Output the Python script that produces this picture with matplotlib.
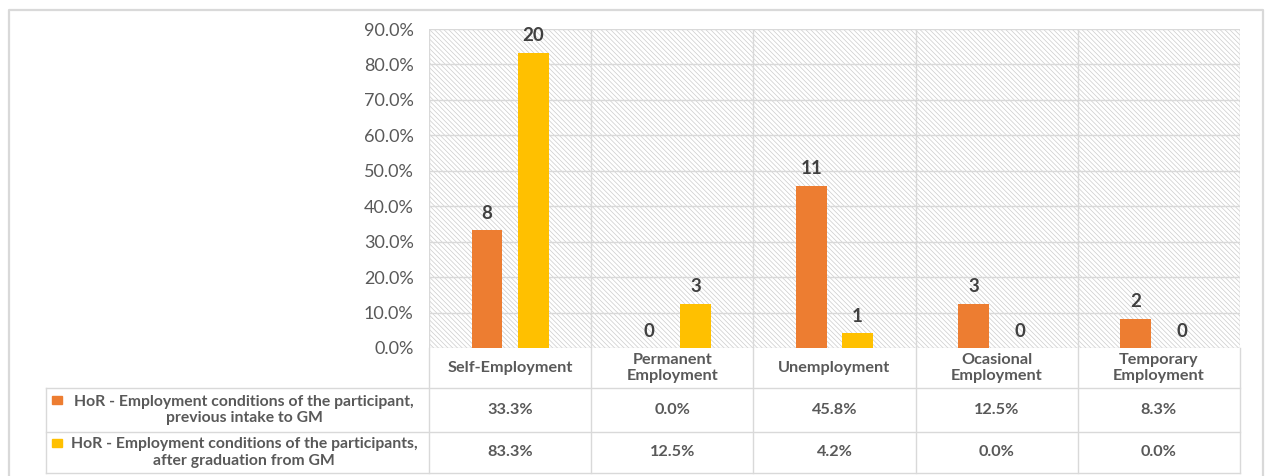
import matplotlib

matplotlib.use("Agg")
import matplotlib.pyplot as plt
import numpy as np
from matplotlib.patches import Rectangle
from matplotlib.ticker import PercentFormatter
from matplotlib.transforms import blended_transform_factory

# --- data -------------------------------------------------------------------

categories = ["Self-Employment", "Permanent\nEmployment", "Unemployment",
              "Ocasional\nEmployment", "Temporary\nEmployment"]
series_names = ["HoR - Employment conditions of the participant,\n"
                "previous intake to GM",
                "HoR - Employment conditions of the participants,\n"
                "after graduation from GM"]
before_pct = [0.333, 0.0, 0.458, 0.125, 0.083]
after_pct = [0.833, 0.125, 0.042, 0.0, 0.0]
before_n = [8, 0, 11, 3, 2]
after_n = [20, 3, 1, 0, 0]

colors = ["#ED7D31", "#FFC000"]
grid_c = "#d9d9d9"
text_c = "#595959"

plt.rcParams["font.family"] = ["Lato", "DejaVu Sans"]
plt.rcParams["hatch.linewidth"] = 0.5

W, H = 1265, 476
fig = plt.figure(figsize=(W / 100, H / 100), dpi=100)

# overlay in pixel coords for the table and outer frame
over = fig.add_axes([0, 0, 1, 1], zorder=0)
over.set_xlim(0, W)
over.set_ylim(H, 0)
over.axis("off")

x0, x1, y_top, y_bot = 429, 1240, 29, 348
ax = fig.add_axes([x0 / W, (H - y_bot) / H, (x1 - x0) / W, (y_bot - y_top) / H],
                  zorder=1)
ax.patch.set_alpha(0)

n = len(categories)
x = np.arange(n) + 0.5
off, bw = 0.142, 0.19

# hatched plot background
ax.add_patch(Rectangle((0, 0), 1, 1, transform=ax.transAxes, facecolor="white",
                       edgecolor="#cccccc", lw=0, hatch="\\" * 7, zorder=0))

for vals, counts, dx, c in ((before_pct, before_n, -off, colors[0]),
                            (after_pct, after_n, off, colors[1])):
    bars = ax.bar(x + dx, vals, bw, color=c, zorder=3)
    for b, cnt in zip(bars, counts):
        ax.annotate(str(cnt), (b.get_x() + b.get_width() / 2, b.get_height()),
                    xytext=(0, 6), textcoords="offset points", ha="center",
                    va="bottom", fontsize=13.5, fontweight="bold",
                    color="#404040", zorder=4)

ax.set_xlim(0, n)
ax.set_ylim(0, 0.9)
ax.set_yticks(np.arange(0, 0.91, 0.1))
ax.yaxis.set_major_formatter(PercentFormatter(1, decimals=1))
ax.tick_params(axis="y", length=0, pad=11, labelsize=13, labelcolor=text_c)
ax.set_xticks([])
ax.grid(axis="y", color=grid_c, lw=1, zorder=1)
for s in ax.spines.values():
    s.set_visible(False)
for b in range(n + 1):
    ax.axvline(b, color=grid_c, lw=1, zorder=1)

# --- data table under the axis ---------------------------------------------

tr = blended_transform_factory(ax.transData, over.transData)
t_left = 46
rows_y = [388, 432, 473]
for yy in rows_y:
    over.plot([t_left, x1], [yy, yy], color=grid_c, lw=1)
over.plot([t_left, t_left], [rows_y[0], rows_y[-1]], color=grid_c, lw=1)
for b in range(n + 1):
    over.plot([b, b], [y_bot, rows_y[-1]], color=grid_c, lw=1, transform=tr)

for xi, cat in zip(x, categories):
    over.text(xi, 368, cat, transform=tr, ha="center", va="center",
              fontsize=11.7, fontweight="bold", color=text_c, linespacing=1.2)

for r, (vals, name, c) in enumerate(zip((before_pct, after_pct), series_names,
                                         colors)):
    yc = (rows_y[r] + rows_y[r + 1]) / 2
    for xi, v in zip(x, vals):
        over.text(xi, yc, f"{v * 100:.1f}%", transform=tr, ha="center",
                  va="center", fontsize=11.7, fontweight="bold", color=text_c)
    over.text(244, yc, name, ha="center", va="center", fontsize=11.3,
              fontweight="bold", color=text_c, linespacing=1.25)
    over.add_patch(Rectangle((52, yc - 14), 10, 8, color=c))

# outer frame
over.plot([8.5, 8.5, 1263, 1263], [H, 9.5, 9.5, H], color=grid_c, lw=1.6)

fig.savefig("out.png", dpi=100)
